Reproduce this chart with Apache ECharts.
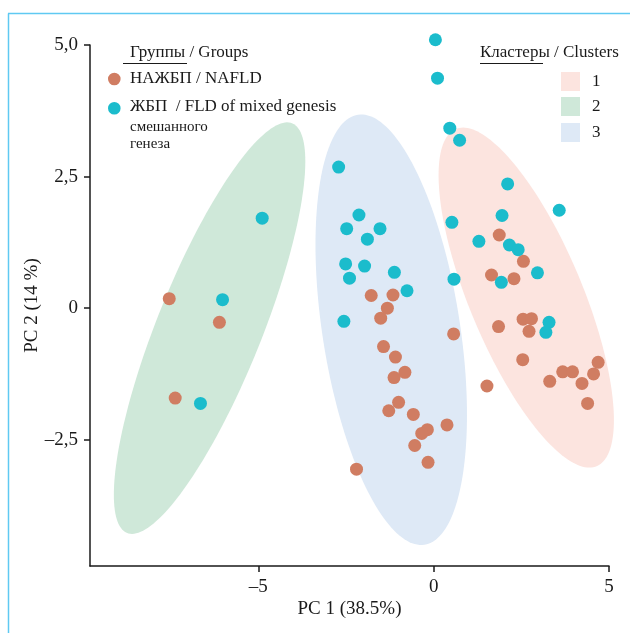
<!DOCTYPE html>
<html><head><meta charset="utf-8">
<script src="https://cdn.jsdelivr.net/npm/echarts@6/dist/echarts.min.js"></script>
<style>html,body{margin:0;padding:0;background:#fff}#c{width:630px;height:633px}</style>
</head><body><div id="c"></div>
<script>
// ---- data ----
const nafldX = [-1.78,-1.16,-1.32,-1.51,0.57,-1.43,-1.09,-0.82,-1.13,-1.00,-1.28,-0.58,0.38,-0.18,-0.34,-0.54,-0.16,-2.20,
  1.87,2.56,1.65,2.29,2.55,2.79,2.72,1.85,2.54,1.52,3.31,3.68,3.96,4.23,4.56,4.69,4.39,
  -7.54,-6.11,-7.37];
const nafldY = [0.24,0.25,0.00,-0.19,-0.49,-0.73,-0.93,-1.22,-1.32,-1.79,-1.95,-2.02,-2.22,-2.31,-2.38,-2.61,-2.93,-3.06,
  1.39,0.89,0.63,0.56,-0.21,-0.20,-0.44,-0.35,-0.98,-1.48,-1.39,-1.21,-1.21,-1.43,-1.25,-1.03,-1.81,
  0.18,-0.27,-1.71];
const fldX = [0.05,0.11,0.46,0.74,-2.71,-2.13,-2.48,-1.53,-1.89,0.52,1.29,-2.51,-1.97,-2.40,-1.12,-0.76,0.58,-2.56,
  2.11,3.58,1.95,2.16,2.41,2.96,1.93,3.29,3.20,-4.89,-6.02,-6.65];
const fldY = [5.10,4.37,3.42,3.19,2.68,1.77,1.51,1.51,1.31,1.63,1.27,0.84,0.80,0.57,0.68,0.33,0.55,-0.25,
  2.36,1.86,1.76,1.20,1.11,0.67,0.49,-0.27,-0.46,1.71,0.16,-1.81];
// cluster ellipses: centre, half extent along x / y, correlation
const clusterNames = ['1','2','3'];
const ellipseCX = [2.64,-6.39,-1.21];
const ellipseCY = [0.20,-0.38,-0.41];
const ellipseSX = [2.50,2.73,2.16];
const ellipseSY = [3.23,3.91,4.09];
const ellipseR  = [-0.72,0.81,-0.395];
const xTicks = [-5,0,5];
const yTicks = [-2.5,0,2.5,5];

// ---- styles ----
const clusterColors = ['#fce4df','#cfe8d9','#dee9f6'];
const cNafld = '#d07d62', cFld = '#1bbccc';
const FONT = '"Liberation Serif","Times New Roman",serif';
const ink = '#1a1a1a';

const chart = echarts.init(document.getElementById('c'), null, {renderer:'canvas'});
const zip = (a,b)=>a.map((v,i)=>[v,b[i]]);
const ellData = ellipseCX.map((v,i)=>[v,ellipseCY[i],ellipseSX[i],ellipseSY[i],ellipseR[i]]);
const fmt = v => v===0 ? '0' : String(v).replace('.', ',').replace('-', '\u2013');
const fmtY = v => v===0 ? '0' : v.toFixed(1).replace('.', ',').replace('-', '\u2013');

const axisCommon = {
  axisLine:{show:true,onZero:false,lineStyle:{color:ink,width:1.5}},
  axisTick:{show:true,length:6,lineStyle:{color:ink,width:1.5}},
  splitLine:{show:false},
  nameMoveOverlap:false,
  nameTextStyle:{fontFamily:FONT,fontSize:19,color:ink}
};

const graphic = [
  {type:'line',shape:{x1:8,y1:13.5,x2:630,y2:13.5},style:{stroke:'#5fc9f2',lineWidth:1.5},silent:true},
  {type:'line',shape:{x1:8.5,y1:13.5,x2:8.5,y2:633},style:{stroke:'#5fc9f2',lineWidth:1.5},silent:true},
  // groups legend
  {type:'text',x:130,y:53,style:{text:'Группы / Groups',fill:ink,font:'17px '+FONT,verticalAlign:'middle'}},
  {type:'line',shape:{x1:123,y1:63.5,x2:187,y2:63.5},style:{stroke:ink,lineWidth:1.2}},
  {type:'circle',shape:{cx:114.3,cy:79,r:6.3},style:{fill:cNafld}},
  {type:'text',x:130,y:79,style:{text:'НАЖБП / NAFLD',fill:ink,font:'17px '+FONT,verticalAlign:'middle'}},
  {type:'circle',shape:{cx:114.3,cy:108.3,r:6.3},style:{fill:cFld}},
  {type:'text',x:130,y:107,style:{text:'ЖБП  / FLD of mixed genesis',fill:ink,font:'17px '+FONT,verticalAlign:'middle'}},
  {type:'text',x:130,y:127,style:{text:'смешанного',fill:ink,font:'15px '+FONT,verticalAlign:'middle'}},
  {type:'text',x:130,y:144,style:{text:'генеза',fill:ink,font:'15px '+FONT,verticalAlign:'middle'}},
  // clusters legend
  {type:'text',x:480,y:53,style:{text:'Кластеры / Clusters',fill:ink,font:'17px '+FONT,verticalAlign:'middle'}},
  {type:'line',shape:{x1:480,y1:63.5,x2:543,y2:63.5},style:{stroke:ink,lineWidth:1.2}}
];
clusterNames.forEach((n,i)=>{
  const y0 = [72,97,123][i];
  graphic.push({type:'rect',shape:{x:561,y:y0,width:19,height:19},style:{fill:clusterColors[i]}});
  graphic.push({type:'text',x:592,y:y0+9.5,style:{text:n,fill:ink,font:'17px '+FONT,verticalAlign:'middle'}});
});

chart.setOption({
  animation:false,
  backgroundColor:'#fff',
  grid:{left:90,right:21,top:45,bottom:67,containLabel:false},
  xAxis:Object.assign({},axisCommon,{type:'value',min:-9.8,max:5,
    name:'PC 1 (38.5%)',nameLocation:'middle',nameGap:34,
    axisTick:Object.assign({},axisCommon.axisTick,{customValues:xTicks}),
    axisLabel:{customValues:xTicks,formatter:fmt,fontFamily:FONT,fontSize:19,color:ink,margin:12}}),
  yAxis:Object.assign({},axisCommon,{type:'value',min:-4.9,max:5,
    name:'PC 2 (14 %)',nameLocation:'middle',nameGap:48,
    axisTick:Object.assign({},axisCommon.axisTick,{customValues:yTicks}),
    axisLabel:{customValues:yTicks,formatter:fmtY,fontFamily:FONT,fontSize:19,color:ink,margin:12}}),
  graphic:graphic,
  series:[
    {type:'custom',coordinateSystem:'cartesian2d',clip:false,z:1,silent:true,
     data:ellData,encode:{x:0,y:1},
     renderItem:function(params,api){
       const cx=api.value(0),cy=api.value(1),sx=api.value(2),sy=api.value(3),r=api.value(4);
       const k=Math.sqrt(1-r*r);const pts=[];
       for(let j=0;j<180;j++){const t=j/180*2*Math.PI;
         pts.push(api.coord([cx+sx*Math.cos(t),cy+sy*(r*Math.cos(t)+k*Math.sin(t))]));}
       return {type:'polygon',shape:{points:pts},style:{fill:clusterColors[params.dataIndex]}};
     }},
    {type:'scatter',name:'NAFLD',data:zip(nafldX,nafldY),symbolSize:13,z:3,clip:false,
     itemStyle:{color:cNafld,opacity:1}},
    {type:'scatter',name:'FLD',data:zip(fldX,fldY),symbolSize:13,z:4,clip:false,
     itemStyle:{color:cFld,opacity:1}}
  ]
});
</script></body></html>
